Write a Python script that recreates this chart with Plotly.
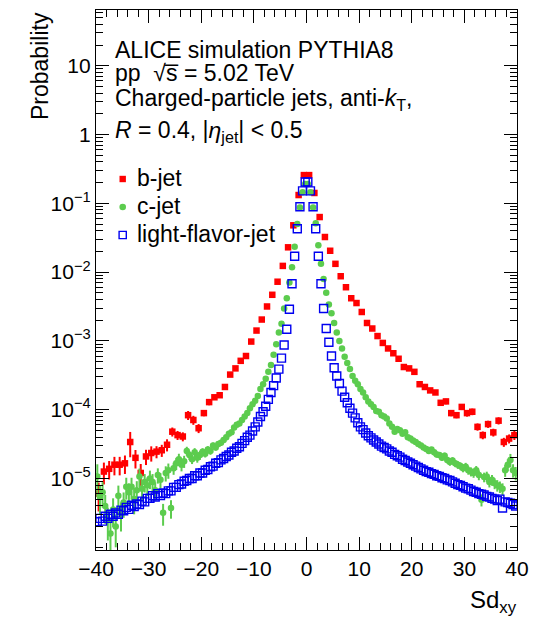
import plotly.graph_objects as go
import numpy as np

# ---------------- data (log10 of probability) ----------------
# b-jet: 80 bins of width 1 from -40 to 40
b_centers = [-39.5 + i for i in range(80)]
b_log = [
    -5.22, -4.90, -4.86, -4.80, -4.80, -4.78, -4.47, -4.70, -4.92, -4.68,
    -4.63, -4.61, -4.59, -4.51, -4.32, -4.37, -4.39, -4.08, -4.15, -4.27,
    -4.05, -3.89, -3.82, -3.79, -3.67, -3.49, -3.40, -3.29, -3.22, -3.01,
    -2.85, -2.69, -2.50, -2.33, -2.14, -1.91, -1.64, -1.32, -0.88, -0.59,
    -0.59, -0.85, -1.20, -1.49, -1.69, -1.88, -2.06, -2.22, -2.38, -2.45,
    -2.58, -2.74, -2.82, -2.93, -3.03, -3.11, -3.18, -3.26, -3.38, -3.40,
    -3.45, -3.63, -3.67, -3.72, -3.75, -3.90, -3.88, -4.05, -4.08, -3.96,
    -4.05, -4.03, -4.25, -4.37, -4.21, -4.33, -4.16, -4.47, -4.42, -4.37,
]
b_relerr = [
    0.45, 0.35, 0.30, 0.30, 0.30, 0.30, 0.40, 0.30, 0.35, 0.25,
    0.25, 0.20, 0.20, 0.20, 0.15, 0.15, 0.15, 0.15, 0.15, 0.15,
    0.10, 0.10, 0.08, 0.08, 0.08, 0.06, 0.06, 0.05, 0.05, 0.04,
    0.03, 0.03, 0.02, 0.02, 0.02, 0.02, 0.01, 0.01, 0.01, 0.01,
    0.01, 0.01, 0.01, 0.01, 0.02, 0.02, 0.02, 0.02, 0.03, 0.03,
    0.03, 0.04, 0.04, 0.04, 0.05, 0.05, 0.05, 0.06, 0.06, 0.06,
    0.07, 0.07, 0.08, 0.08, 0.08, 0.09, 0.09, 0.10, 0.10, 0.10,
    0.11, 0.11, 0.12, 0.13, 0.12, 0.13, 0.12, 0.15, 0.15, 0.15,
]

# c-jet and light-flavor-jet: 160 bins of width 0.5 from -40 to 40
cl_centers = [-39.75 + 0.5 * i for i in range(160)]
c_log = [
    -4.97, -5.27, -5.20, -5.40, -5.60, -5.80, -5.45, -5.70, -5.25, -5.51,
    -5.35, -5.12, -5.20, -5.12, -5.30, -5.17, -4.97, -5.15, -5.05, -5.10,
    -5.00, -5.05, -5.17, -4.95, -5.02, -5.50, -4.92, -4.88, -5.43, -4.85,
    -4.78, -4.72, -4.80, -4.75, -4.60, -4.66, -4.72, -4.62, -4.70, -4.66,
    -4.61, -4.64, -4.58, -4.60, -4.52, -4.55, -4.50, -4.48, -4.44, -4.40,
    -4.35, -4.33, -4.26, -4.22, -4.20, -4.15, -4.10, -4.05, -3.98, -3.92,
    -3.87, -3.80, -3.70, -3.63, -3.55, -3.45, -3.35, -3.20, -3.05, -2.88,
    -2.75, -2.53, -2.38, -2.15, -1.93, -1.63, -1.30, -1.06, -0.84, -0.72,
    -0.72, -0.84, -1.06, -1.29, -1.61, -1.88, -2.10, -2.30, -2.47, -2.60,
    -2.74, -2.88, -3.00, -3.11, -3.23, -3.32, -3.41, -3.51, -3.58, -3.63,
    -3.70, -3.75, -3.82, -3.88, -3.92, -3.96, -4.02, -4.03, -4.08, -4.10,
    -4.13, -4.20, -4.25, -4.32, -4.28, -4.30, -4.35, -4.33, -4.40, -4.42,
    -4.45, -4.47, -4.50, -4.52, -4.55, -4.57, -4.60, -4.58, -4.62, -4.65,
    -4.66, -4.70, -4.67, -4.73, -4.76, -4.74, -4.78, -4.80, -4.82, -4.85,
    -4.83, -4.88, -4.90, -4.92, -4.88, -4.95, -5.31, -4.98, -4.97, -5.05,
    -5.02, -5.07, -5.10, -5.12, -5.15, -4.88, -4.80, -4.73, -4.88, -4.92,
]
c_relerr = [
    0.50, 0.45, 0.40, 0.45, 0.50, 0.55, 0.45, 0.50, 0.40, 0.45,
    0.40, 0.35, 0.35, 0.35, 0.40, 0.35, 0.30, 0.35, 0.30, 0.30,
    0.30, 0.30, 0.30, 0.25, 0.25, 0.35, 0.25, 0.25, 0.30, 0.20,
    0.20, 0.20, 0.20, 0.20, 0.15, 0.15, 0.15, 0.15, 0.15, 0.15,
    0.12, 0.12, 0.12, 0.12, 0.10, 0.10, 0.10, 0.10, 0.08, 0.08,
    0.06, 0.06, 0.05, 0.05, 0.05, 0.04, 0.04, 0.04, 0.03, 0.03,
    0.02, 0.02, 0.02, 0.02, 0.02, 0.01, 0.01, 0.01, 0.01, 0.01,
    0.01, 0.01, 0.01, 0.01, 0.01, 0.01, 0.01, 0.01, 0.01, 0.01,
    0.01, 0.01, 0.01, 0.01, 0.01, 0.01, 0.01, 0.01, 0.01, 0.01,
    0.01, 0.01, 0.01, 0.01, 0.02, 0.02, 0.02, 0.02, 0.02, 0.02,
    0.03, 0.03, 0.03, 0.03, 0.04, 0.04, 0.04, 0.04, 0.05, 0.05,
    0.05, 0.05, 0.06, 0.06, 0.06, 0.06, 0.07, 0.07, 0.07, 0.07,
    0.08, 0.08, 0.08, 0.08, 0.09, 0.09, 0.09, 0.09, 0.10, 0.10,
    0.10, 0.10, 0.11, 0.11, 0.12, 0.12, 0.12, 0.13, 0.13, 0.13,
    0.14, 0.14, 0.15, 0.15, 0.15, 0.16, 0.20, 0.16, 0.17, 0.17,
    0.18, 0.18, 0.19, 0.19, 0.20, 0.20, 0.20, 0.22, 0.22, 0.22,
]
l_log = [
    -5.63, -5.58, -5.62, -5.55, -5.58, -5.52, -5.55, -5.50, -5.52, -5.46,
    -5.47, -5.42, -5.45, -5.39, -5.41, -5.37, -5.38, -5.33, -5.34, -5.29,
    -5.29, -5.25, -5.27, -5.22, -5.25, -5.21, -5.22, -5.18, -5.18, -5.13,
    -5.13, -5.09, -5.08, -5.04, -5.03, -5.00, -5.00, -4.96, -4.96, -4.92,
    -4.92, -4.88, -4.87, -4.83, -4.82, -4.78, -4.77, -4.73, -4.71, -4.68,
    -4.66, -4.62, -4.60, -4.56, -4.54, -4.49, -4.45, -4.40, -4.37, -4.31,
    -4.25, -4.18, -4.10, -4.03, -3.95, -3.85, -3.75, -3.65, -3.54, -3.41,
    -3.25, -3.06, -2.83, -2.54, -2.17, -1.77, -1.37, -1.05, -0.82, -0.69,
    -0.69, -0.82, -1.05, -1.37, -1.77, -2.17, -2.53, -2.82, -3.02, -3.22,
    -3.39, -3.51, -3.62, -3.73, -3.82, -3.90, -3.98, -4.05, -4.12, -4.19,
    -4.25, -4.29, -4.34, -4.38, -4.41, -4.44, -4.47, -4.50, -4.53, -4.55,
    -4.57, -4.60, -4.62, -4.65, -4.67, -4.69, -4.72, -4.74, -4.76, -4.78,
    -4.80, -4.82, -4.84, -4.86, -4.88, -4.90, -4.91, -4.93, -4.94, -4.96,
    -4.97, -4.99, -5.00, -5.02, -5.03, -5.05, -5.07, -5.09, -5.10, -5.12,
    -5.14, -5.15, -5.17, -5.19, -5.20, -5.22, -5.23, -5.24, -5.26, -5.27,
    -5.29, -5.30, -5.32, -5.30, -5.43, -5.34, -5.35, -5.36, -5.38, -5.40,
]

series_names = ["b-jet", "c-jet", "light-flavor-jet"]
x_tick_vals = [-40, -30, -20, -10, 0, 10, 20, 30, 40]
x_tick_text = ["\u221240", "\u221230", "\u221220", "\u221210", "0", "10", "20", "30", "40"]
y_tick_exps = [-5, -4, -3, -2, -1, 0, 1]
y_tick_text = ["10<sup>\u22125</sup>", "10<sup>\u22124</sup>", "10<sup>\u22123</sup>",
               "10<sup>\u22122</sup>", "10<sup>\u22121</sup>", "1", "10"]

# ---------------- figure ----------------
# the page adds an 8 px body margin, so the figure is 8 px smaller and all
# page-pixel positions below are shifted by OFF
OFF = 8
W, H = 538 - OFF, 619 - OFF
PL, PR, PT, PB = 96, 517, 10, 550          # plot area in page pixels
ML, MR, MT, MB = PL - OFF, W - (PR - OFF), PT - OFF, H - (PB - OFF)
FONT = "Liberation Sans, Arial, Helvetica, sans-serif"
RED, GREEN, BLUE = "#ff0000", "#5ccc4e", "#0000f0"


def px(x):
    return (x - PL) / (PR - PL)


def py(y):
    return (PB - y) / (PB - PT)


b_val = [10 ** v for v in b_log]
c_val = [10 ** v for v in c_log]
l_val = [10 ** v for v in l_log]
b_err = [p * e for p, e in zip(b_val, b_relerr)]
c_err = [p * e for p, e in zip(c_val, c_relerr)]

fig = go.Figure()
fig.add_trace(go.Scatter(
    x=b_centers, y=b_val, mode="markers", name=series_names[0],
    marker=dict(symbol="square", size=6.5, color=RED, line=dict(width=0)),
    error_y=dict(type="data", array=b_err, visible=True, color=RED, thickness=2, width=0),
    showlegend=False,
))
fig.add_trace(go.Scatter(
    x=cl_centers, y=c_val, mode="markers", name=series_names[1],
    marker=dict(symbol="circle", size=6.5, color=GREEN, line=dict(width=0)),
    error_y=dict(type="data", array=c_err, visible=True, color=GREEN, thickness=2, width=0),
    showlegend=False,
))
fig.add_trace(go.Scatter(
    x=cl_centers, y=l_val, mode="markers", name=series_names[2],
    marker=dict(symbol="square-open", size=8, color=BLUE, line=dict(width=1.4, color=BLUE)),
    showlegend=False,
))

minor_y = [k * 10 ** n for n in range(-7, 2) for k in range(1, 10) if not (k == 1 and n >= -5)]

fig.update_layout(
    width=W, height=H,
    margin=dict(l=ML, r=MR, t=MT, b=MB, autoexpand=False),
    paper_bgcolor="white", plot_bgcolor="white",
    font=dict(family=FONT, color="black", size=21),
    showlegend=False,
    xaxis=dict(
        range=[-40, 40], showgrid=False, zeroline=False,
        showline=True, linecolor="black", linewidth=1.3, mirror="allticks",
        ticks="inside", ticklen=13, tickwidth=1.1, tickcolor="black",
        tickmode="array", tickvals=x_tick_vals, ticktext=x_tick_text,
        tickfont=dict(size=21, family=FONT),
        minor=dict(ticks="inside", ticklen=7, tickwidth=1.1, tickcolor="black",
                   dtick=2, tick0=0, showgrid=False),
    ),
    yaxis=dict(
        type="log", range=[-6.04, 1.81], showgrid=False, zeroline=False,
        showline=True, linecolor="black", linewidth=1.3, mirror="allticks",
        ticks="inside", ticklen=13, tickwidth=1.1, tickcolor="black",
        tickmode="array", tickvals=[10 ** e for e in y_tick_exps], ticktext=y_tick_text,
        tickfont=dict(size=21, family=FONT),
        minor=dict(ticks="inside", ticklen=7, tickwidth=1.1, tickcolor="black",
                   tickmode="array", tickvals=minor_y, showgrid=False),
    ),
)

TXT = 23
ann = []
lines = [
    ("ALICE simulation PYTHIA8", 50),
    ("pp  \u221As\u0305 = 5.02 TeV", 73),
    ("Charged-particle jets, anti-<i>k</i><sub>T</sub>,", 99),
    ("<i>R</i> = 0.4, |<i>\u03b7</i><sub>jet</sub>| &lt; 0.5", 131),
]
for text, yc in lines:
    ann.append(dict(text=text, x=px(113), y=py(yc), xref="paper", yref="paper",
                    xanchor="left", yanchor="middle", showarrow=False,
                    font=dict(size=TXT, family=FONT, color="black")))

leg_y = [179, 207, 235]
for name, yc in zip(series_names, leg_y):
    ann.append(dict(text=name, x=px(135), y=py(yc - 1), xref="paper", yref="paper",
                    xanchor="left", yanchor="middle", showarrow=False,
                    font=dict(size=TXT, family=FONT, color="black")))

# axis titles
ann.append(dict(text="Probability", x=px(40), y=py(10), xref="paper", yref="paper",
                xanchor="center", yanchor="top", textangle=-90, showarrow=False,
                font=dict(size=23, family=FONT, color="black")))
ann.append(dict(text="Sd<sub>xy</sub>", x=px(519), y=py(584), xref="paper", yref="paper",
                xanchor="right", yanchor="top", showarrow=False,
                font=dict(size=24, family=FONT, color="black")))

shapes = []
mx = px(122.7)
shapes.append(dict(type="rect", xref="paper", yref="paper", xsizemode="pixel", ysizemode="pixel",
                   xanchor=mx, yanchor=py(leg_y[0]), x0=-3.2, x1=3.2, y0=-3.2, y1=3.2,
                   fillcolor=RED, line=dict(width=0)))
shapes.append(dict(type="circle", xref="paper", yref="paper", xsizemode="pixel", ysizemode="pixel",
                   xanchor=mx, yanchor=py(leg_y[1]), x0=-3.3, x1=3.3, y0=-3.3, y1=3.3,
                   fillcolor=GREEN, line=dict(width=0)))
shapes.append(dict(type="rect", xref="paper", yref="paper", xsizemode="pixel", ysizemode="pixel",
                   xanchor=mx, yanchor=py(leg_y[2]), x0=-3.6, x1=3.6, y0=-3.6, y1=3.6,
                   fillcolor="rgba(0,0,0,0)", line=dict(width=1.4, color=BLUE)))

fig.update_layout(annotations=ann, shapes=shapes)
fig.write_html("out.html")
